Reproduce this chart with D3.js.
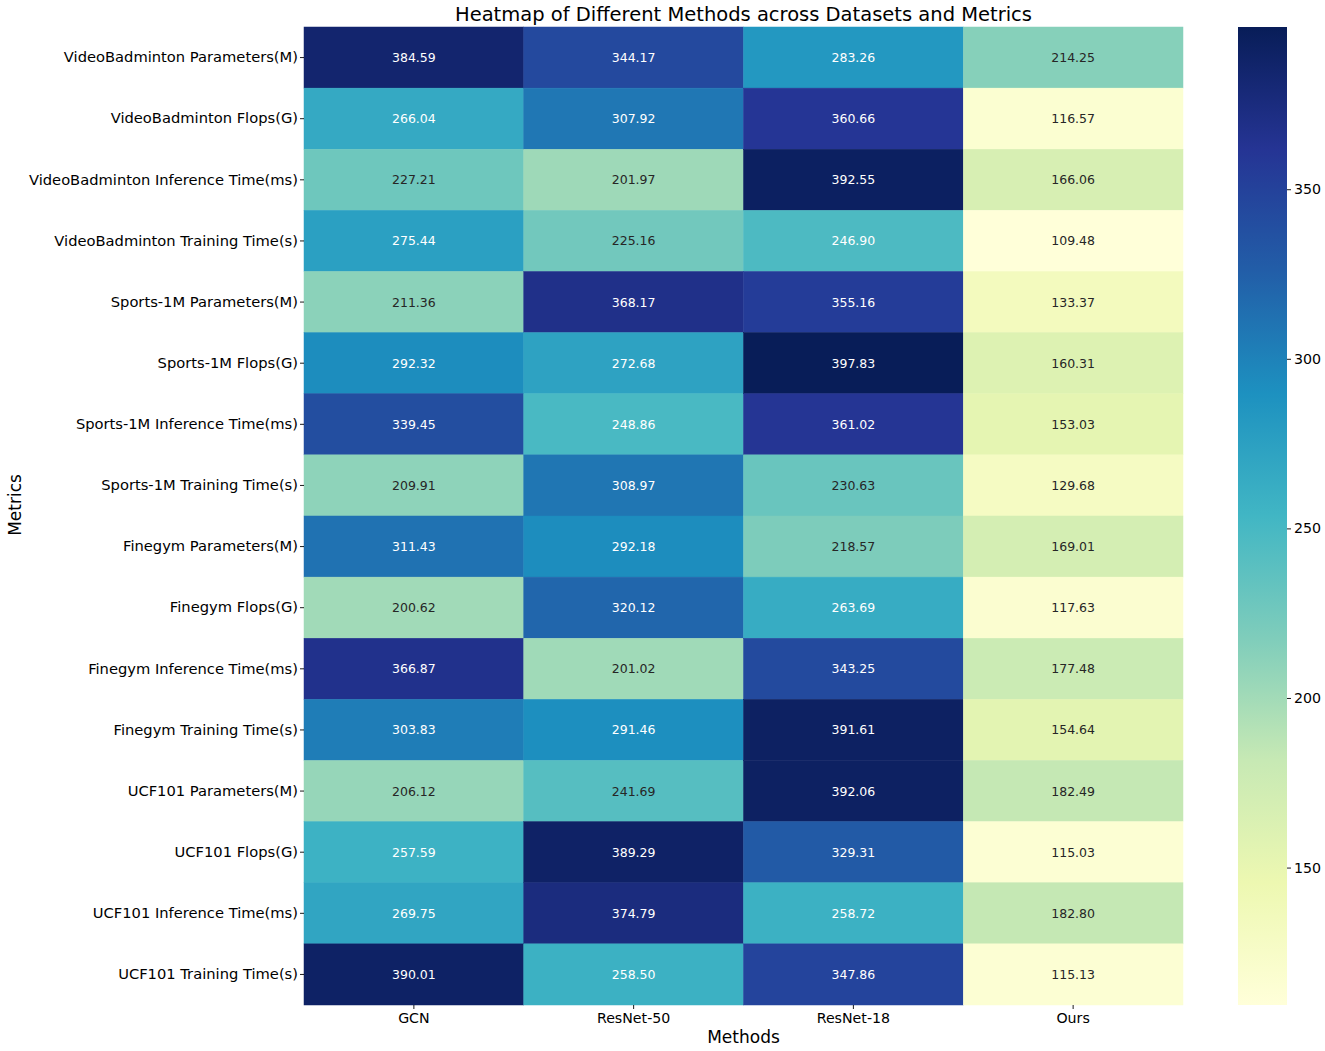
<!DOCTYPE html>
<html>
<head>
<meta charset="utf-8">
<script src="https://cdn.jsdelivr.net/npm/d3@7"></script>
<style>
  body { margin: 0; background: #fff; }
  svg text { font-family: "DejaVu Sans", sans-serif; }
</style>
</head>
<body>
<div class="content"></div>
<script>
var methods = ['GCN', 'ResNet-50', 'ResNet-18', 'Ours'];
var metrics = [
    'VideoBadminton Parameters(M)',
    'VideoBadminton Flops(G)',
    'VideoBadminton Inference Time(ms)',
    'VideoBadminton Training Time(s)',
    'Sports-1M Parameters(M)',
    'Sports-1M Flops(G)',
    'Sports-1M Inference Time(ms)',
    'Sports-1M Training Time(s)',
    'Finegym Parameters(M)',
    'Finegym Flops(G)',
    'Finegym Inference Time(ms)',
    'Finegym Training Time(s)',
    'UCF101 Parameters(M)',
    'UCF101 Flops(G)',
    'UCF101 Inference Time(ms)',
    'UCF101 Training Time(s)'
];
var gcn      = [384.59, 266.04, 227.21, 275.44, 211.36, 292.32, 339.45, 209.91, 311.43, 200.62, 366.87, 303.83, 206.12, 257.59, 269.75, 390.01];
var resnet50 = [344.17, 307.92, 201.97, 225.16, 368.17, 272.68, 248.86, 308.97, 292.18, 320.12, 201.02, 291.46, 241.69, 389.29, 374.79, 258.50];
var resnet18 = [283.26, 360.66, 392.55, 246.90, 355.16, 397.83, 361.02, 230.63, 218.57, 263.69, 343.25, 391.61, 392.06, 329.31, 258.72, 347.86];
var ours     = [214.25, 116.57, 166.06, 109.48, 133.37, 160.31, 153.03, 129.68, 169.01, 117.63, 177.48, 154.64, 182.49, 115.03, 182.80, 115.13];
var colorbarTicks = [150, 200, 250, 300, 350];

// matplotlib YlGnBu anchors
var ylgnbu = ['#ffffd9', '#edf8b1', '#c7e9b4', '#7fcdbb', '#41b6c4', '#1d91c0', '#225ea8', '#253494', '#081d58'];

var series = [gcn, resnet50, resnet18, ours];
var cells = [];
for (var c = 0; c < methods.length; c++) {
    for (var r = 0; r < metrics.length; r++) {
        cells.push({ method: methods[c], metric: metrics[r], value: series[c][r] });
    }
}

var W = 1325, H = 1051;
var plot = { left: 304, right: 1183, top: 27, bottom: 1005 };
var cbar = { left: 1238, right: 1287 };

var vmin = d3.min(cells, function(d) { return d.value; });
var vmax = d3.max(cells, function(d) { return d.value; });

var color = d3.scaleLinear()
    .domain(d3.range(ylgnbu.length).map(function(i) { return vmin + (vmax - vmin) * i / (ylgnbu.length - 1); }))
    .range(ylgnbu)
    .interpolate(d3.interpolateRgb)
    .clamp(true);

// same rule seaborn uses to pick the annotation colour
function luminance(col) {
    var rgb = d3.rgb(col);
    var ch = [rgb.r, rgb.g, rgb.b].map(function(v) {
        v = v / 255;
        return v <= 0.03928 ? v / 12.92 : Math.pow((v + 0.055) / 1.055, 2.4);
    });
    return 0.2126 * ch[0] + 0.7152 * ch[1] + 0.0722 * ch[2];
}

var svg = d3.select('.content').append('svg')
    .attr('width', W)
    .attr('height', H);

var x = d3.scaleBand().domain(methods).range([plot.left, plot.right]);
var y = d3.scaleBand().domain(metrics).range([plot.top, plot.bottom]);

var g = svg.append('g');
g.selectAll('rect.cell')
    .data(cells)
    .enter().append('rect')
    .attr('class', 'cell')
    .attr('x', function(d) { return x(d.method); })
    .attr('y', function(d) { return y(d.metric); })
    .attr('width', x.bandwidth())
    .attr('height', y.bandwidth())
    .attr('fill', function(d) { return color(d.value); })
    .attr('stroke', function(d) { return color(d.value); })
    .attr('stroke-width', 0.5);

g.selectAll('text.annot')
    .data(cells)
    .enter().append('text')
    .attr('class', 'annot')
    .attr('x', function(d) { return x(d.method) + x.bandwidth() / 2; })
    .attr('y', function(d) { return y(d.metric) + y.bandwidth() / 2; })
    .attr('text-anchor', 'middle')
    .attr('dominant-baseline', 'central')
    .style('font-size', '12.5px')
    .style('fill', function(d) { return luminance(color(d.value)) > 0.408 ? '#262626' : '#ffffff'; })
    .text(function(d) { return d.value.toFixed(2); });

// axes
var xAxis = svg.append('g')
    .attr('transform', 'translate(0,' + plot.bottom + ')')
    .call(d3.axisBottom(x).tickSize(4).tickPadding(4));
var yAxis = svg.append('g')
    .attr('transform', 'translate(' + plot.left + ',0)')
    .call(d3.axisLeft(y).tickSize(4).tickPadding(2));
[xAxis, yAxis].forEach(function(a) {
    a.select('.domain').remove();
    a.selectAll('.tick line').attr('stroke', '#000').attr('stroke-width', 0.9);
    a.selectAll('.tick text')
        .style('font-family', '"DejaVu Sans", sans-serif')
        .attr('fill', '#000');
});
yAxis.selectAll('.tick text').style('font-size', '14.7px');
xAxis.selectAll('.tick text').style('font-size', '14.2px');

svg.append('text')
    .attr('x', (plot.left + plot.right) / 2)
    .attr('y', 21)
    .attr('text-anchor', 'middle')
    .style('font-size', '19.5px')
    .text('Heatmap of Different Methods across Datasets and Metrics');

svg.append('text')
    .attr('x', (plot.left + plot.right) / 2)
    .attr('y', 1043)
    .attr('text-anchor', 'middle')
    .style('font-size', '17px')
    .text('Methods');

svg.append('text')
    .attr('transform', 'translate(21,505) rotate(-90)')
    .attr('text-anchor', 'middle')
    .style('font-size', '17px')
    .text('Metrics');

// colorbar
var cy = d3.scaleLinear().domain([vmin, vmax]).range([plot.bottom, plot.top]);
var defs = svg.append('defs');
var grad = defs.append('linearGradient')
    .attr('id', 'cbgrad')
    .attr('x1', 0).attr('y1', 1).attr('x2', 0).attr('y2', 0);
grad.selectAll('stop')
    .data(ylgnbu)
    .enter().append('stop')
    .attr('offset', function(d, i) { return i / (ylgnbu.length - 1); })
    .attr('stop-color', function(d) { return d; });

svg.append('rect')
    .attr('x', cbar.left)
    .attr('y', plot.top)
    .attr('width', cbar.right - cbar.left)
    .attr('height', plot.bottom - plot.top)
    .attr('fill', 'url(#cbgrad)');

var cAxis = svg.append('g')
    .attr('transform', 'translate(' + cbar.right + ',0)')
    .call(d3.axisRight(cy).tickValues(colorbarTicks).tickSize(4).tickPadding(3));
cAxis.select('.domain').remove();
cAxis.selectAll('.tick line').attr('stroke', '#000').attr('stroke-width', 0.9);
cAxis.selectAll('.tick text')
    .style('font-size', '14.2px')
    .style('font-family', '"DejaVu Sans", sans-serif')
    .attr('fill', '#000');
</script>
</body>
</html>
